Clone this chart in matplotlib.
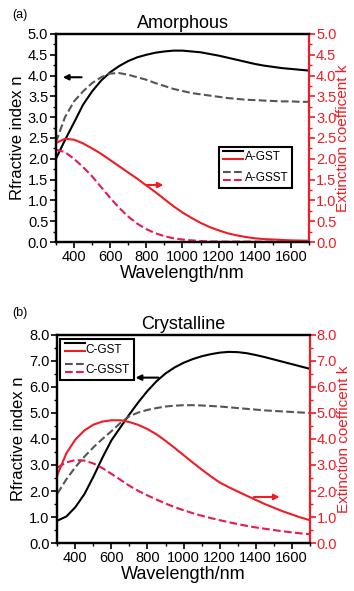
import matplotlib
matplotlib.use("Agg")
import matplotlib.pyplot as plt
from matplotlib.lines import Line2D
from matplotlib.legend_handler import HandlerBase
from matplotlib.ticker import MultipleLocator, FormatStrFormatter

plt.rcParams["font.family"] = ["Liberation Sans", "DejaVu Sans"]

# ---------------------------------------------------------------------------
# optical constants vs wavelength (nm)
# ---------------------------------------------------------------------------
wavelength = [300, 350, 400, 450, 500, 550, 600, 650, 700, 750, 800, 850, 900,
              950, 1000, 1050, 1100, 1150, 1200, 1250, 1300, 1350, 1400, 1450,
              1500, 1550, 1600, 1650, 1700]

# amorphous
a_gst_n = [2.00, 2.45, 2.87, 3.30, 3.62, 3.88, 4.08, 4.23, 4.35, 4.44, 4.50, 4.55,
           4.58, 4.60, 4.60, 4.58, 4.56, 4.52, 4.48, 4.43, 4.38, 4.33, 4.28, 4.24,
           4.21, 4.18, 4.16, 4.14, 4.12]
a_gsst_n = [2.40, 3.00, 3.38, 3.62, 3.82, 3.96, 4.05, 4.06, 4.02, 3.96, 3.90, 3.82,
            3.75, 3.68, 3.63, 3.58, 3.55, 3.52, 3.49, 3.46, 3.44, 3.42, 3.41, 3.40,
            3.39, 3.38, 3.38, 3.37, 3.37]
a_gst_k = [2.38, 2.48, 2.46, 2.37, 2.25, 2.12, 1.97, 1.82, 1.67, 1.52, 1.36, 1.20,
           1.03, 0.86, 0.71, 0.58, 0.46, 0.36, 0.28, 0.21, 0.16, 0.12, 0.09, 0.07,
           0.06, 0.05, 0.04, 0.035, 0.03]
a_gsst_k = [2.22, 2.16, 2.00, 1.80, 1.58, 1.32, 1.06, 0.82, 0.61, 0.44, 0.31, 0.21,
            0.14, 0.09, 0.06, 0.04, 0.025, 0.015, 0.01, 0.01, 0.01, 0.01, 0.01, 0.01,
            0.01, 0.01, 0.01, 0.01, 0.01]

# crystalline
c_gst_n = [0.86, 1.02, 1.38, 1.88, 2.55, 3.28, 3.95, 4.45, 4.95, 5.42, 5.85, 6.22,
           6.52, 6.75, 6.93, 7.07, 7.18, 7.26, 7.32, 7.35, 7.34, 7.30, 7.23, 7.15,
           7.06, 6.97, 6.88, 6.79, 6.70]
c_gsst_n = [1.90, 2.45, 2.92, 3.32, 3.68, 4.00, 4.30, 4.62, 4.88, 5.02, 5.12, 5.19,
            5.25, 5.28, 5.30, 5.30, 5.29, 5.27, 5.25, 5.22, 5.19, 5.16, 5.13, 5.10,
            5.08, 5.06, 5.04, 5.02, 5.00]
c_gst_k = [2.62, 3.45, 3.98, 4.33, 4.55, 4.67, 4.72, 4.72, 4.65, 4.54, 4.38, 4.18,
           3.93, 3.66, 3.38, 3.10, 2.83, 2.57, 2.33, 2.15, 1.98, 1.82, 1.66, 1.50,
           1.36, 1.22, 1.10, 0.98, 0.88]
c_gsst_k = [2.90, 3.10, 3.19, 3.17, 3.06, 2.88, 2.66, 2.43, 2.20, 2.00, 1.83, 1.67,
            1.52, 1.38, 1.26, 1.15, 1.05, 0.96, 0.88, 0.80, 0.73, 0.66, 0.60, 0.55,
            0.50, 0.45, 0.41, 0.37, 0.34]

RED = "#f01c24"
PINK = "#e8194f"
GREY = "#555555"
LW = 1.5


class HandlerStacked(HandlerBase):
    """Two line samples stacked on top of each other, one label."""
    def create_artists(self, legend, orig_handle, xdescent, ydescent,
                       width, height, fontsize, trans):
        out = []
        for h, frac in zip(orig_handle, (1.0, 0.25)):
            y = frac * height - ydescent
            ln = Line2D([-xdescent, width - xdescent], [y, y],
                        color=h.get_color(), linestyle=h.get_linestyle(),
                        linewidth=h.get_linewidth())
            ln.set_transform(trans)
            out.append(ln)
        return out


def panel(rect, title, n_gst, n_gsst, k_gst, k_gsst, ymax, major, labels,
          leg_anchor, n_arrow, k_arrow):
    ax = fig.add_axes(rect)
    ax2 = ax.twinx()

    l1, = ax.plot(wavelength, n_gst, color="black", lw=LW)
    l3, = ax.plot(wavelength, n_gsst, color=GREY, lw=LW, ls="--")
    l2, = ax2.plot(wavelength, k_gst, color=RED, lw=LW)
    l4, = ax2.plot(wavelength, k_gsst, color=PINK, lw=LW, ls="--")

    for a in (ax, ax2):
        a.set_xlim(300, 1700)
        a.set_ylim(0, ymax)
        a.yaxis.set_major_locator(MultipleLocator(major))
        a.yaxis.set_minor_locator(MultipleLocator(major / 2))
        a.yaxis.set_major_formatter(FormatStrFormatter("%.1f"))
        for s in a.spines.values():
            s.set_linewidth(1.6)

    ax.xaxis.set_major_locator(MultipleLocator(200))
    ax.xaxis.set_minor_locator(MultipleLocator(100))
    ax.set_xticks(range(400, 1700, 200))
    ax.tick_params(which="major", direction="out", length=4, width=1.2,
                   labelsize=10.5, pad=1.5)
    ax.tick_params(which="minor", direction="out", length=2.5, width=1.0)
    ax.spines["right"].set_visible(False)

    ax2.spines["right"].set_color(RED)
    ax2.tick_params(which="major", direction="out", length=4, width=1.2,
                    labelsize=10.5, pad=1.0, colors=RED)
    ax2.tick_params(which="minor", direction="out", length=2.5, width=1.0,
                    colors=RED)

    ax.set_title(title, fontsize=13, pad=4)
    ax.set_xlabel("Wavelength/nm", fontsize=13, labelpad=1)
    ax.set_ylabel("Rfractive index n", fontsize=12, labelpad=2)
    ax2.set_ylabel("Extinction coefficent k", fontsize=11, color=RED,
                   labelpad=0)

    # arrows pointing to the matching axis
    (x0, x1, y) = n_arrow
    ax.annotate("", xy=(x1, y), xytext=(x0, y),
                arrowprops=dict(arrowstyle="-|>", color="black", lw=1.5,
                                mutation_scale=8, shrinkA=0, shrinkB=0))
    (x0, x1, y) = k_arrow
    ax2.annotate("", xy=(x1, y), xytext=(x0, y),
                 arrowprops=dict(arrowstyle="-|>", color=RED, lw=1.5,
                                 mutation_scale=8, shrinkA=0, shrinkB=0))

    leg = ax2.legend([(l1, l2), (l3, l4)], labels,
                     handler_map={tuple: HandlerStacked()},
                     loc="upper left", bbox_to_anchor=leg_anchor,
                     borderaxespad=0, fontsize=8.5, handlelength=1.7,
                     handleheight=1.0, handletextpad=0.1, labelspacing=0.7,
                     borderpad=0.35, fancybox=False, framealpha=1)
    leg.get_frame().set_edgecolor("black")
    leg.get_frame().set_linewidth(1.5)
    return ax, ax2


fig = plt.figure(figsize=(3.54, 5.91), dpi=100)

panel([0.158, 0.5905, 0.715, 0.352], "Amorphous",
      a_gst_n, a_gsst_n, a_gst_k, a_gsst_k, 5.0, 0.5, ["A-GST", "A-GSST"],
      (0.645, 0.457), (442, 338, 3.96), (797, 895, 1.37))
panel([0.162, 0.0812, 0.713, 0.352], "Crystalline",
      c_gst_n, c_gsst_n, c_gst_k, c_gsst_k, 8.0, 1.0, ["C-GST", "C-GSST"],
      (0.012, 0.98), (861, 734, 6.36), (1390, 1533, 1.77))

fig.text(0.035, 1 - 15 / 591, "(a)", fontsize=9, va="center")
fig.text(0.035, 1 - 313 / 591, "(b)", fontsize=9, va="center")

fig.savefig("out.png", dpi=100)
